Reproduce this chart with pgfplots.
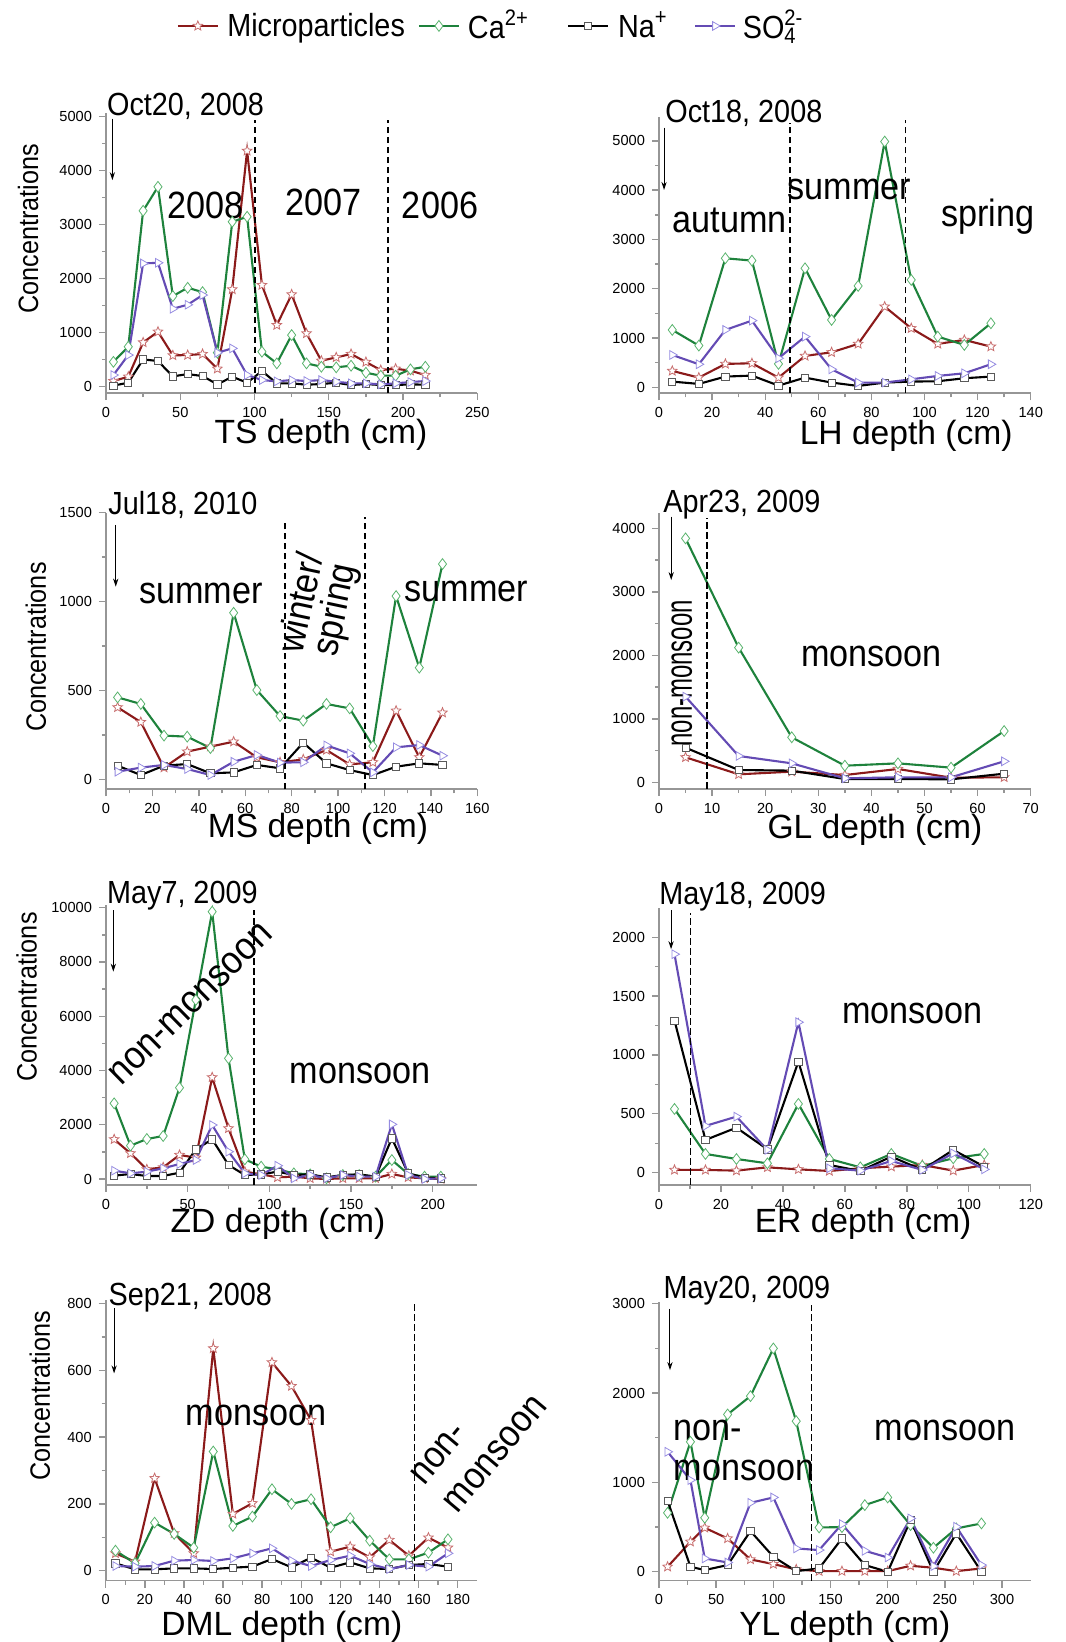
\documentclass[border=0pt]{standalone}
\usepackage{fontspec}
\setmainfont{Liberation Sans}
\newfontfamily\cond{Liberation Sans}[FakeStretch=0.9]
\usepackage{graphicx}
\usepackage{pgfplots}
\usepackage{pgfplotstable}
\pgfplotsset{compat=1.18}
\usetikzlibrary{arrows.meta}

\definecolor{mpc}{RGB}{139,26,26}
\definecolor{mpm}{RGB}{200,110,110}
\definecolor{cac}{RGB}{30,130,60}
\definecolor{cam}{RGB}{90,180,110}
\definecolor{nam}{RGB}{90,90,90}
\definecolor{soc}{RGB}{100,75,180}
\definecolor{som}{RGB}{150,140,225}
\definecolor{axgray}{RGB}{150,150,150}

\pgfdeclareplotmark{ostar}{%
  \pgfpathmoveto{\pgfqpointpolar{90}{\pgfplotmarksize}}%
  \pgfpathlineto{\pgfpointscale{0.45}{\pgfqpointpolar{126}{\pgfplotmarksize}}}%
  \pgfpathlineto{\pgfqpointpolar{162}{\pgfplotmarksize}}%
  \pgfpathlineto{\pgfpointscale{0.45}{\pgfqpointpolar{198}{\pgfplotmarksize}}}%
  \pgfpathlineto{\pgfqpointpolar{234}{\pgfplotmarksize}}%
  \pgfpathlineto{\pgfpointscale{0.45}{\pgfqpointpolar{270}{\pgfplotmarksize}}}%
  \pgfpathlineto{\pgfqpointpolar{306}{\pgfplotmarksize}}%
  \pgfpathlineto{\pgfpointscale{0.45}{\pgfqpointpolar{342}{\pgfplotmarksize}}}%
  \pgfpathlineto{\pgfqpointpolar{18}{\pgfplotmarksize}}%
  \pgfpathlineto{\pgfpointscale{0.45}{\pgfqpointpolar{54}{\pgfplotmarksize}}}%
  \pgfpathclose
  \pgfusepathqfillstroke
}

\pgfplotsset{
  panel/.style={
    scale only axis, anchor=south west, clip=false,
    axis x line*=bottom, axis y line*=left,
    axis line style={color=axgray, line width=0.8pt, -},
    tick align=outside,
    tick style={color=axgray, line width=0.7pt},
    major tick length=3.5pt, minor tick length=2pt,
    minor tick num=1,
    scaled ticks=false,
    tick label style={font=\fontsize{7.3}{8}\selectfont, text=black},
    /pgf/number format/assume math mode=true,
    /pgf/number format/1000 sep={},
    xlabel style={font=\fontsize{16.8}{17}\selectfont, anchor=base},
    ylabel style={font=\cond\fontsize{14}{14}\selectfont, anchor=center},
  },
  mp/.style={color=mpc, line width=1.05pt, mark=ostar, mark size=2.5pt, mark options={draw=mpm, fill=white, line width=0.4pt, solid}},
  ca/.style={color=cac, line width=1.05pt, mark=diamond*, mark size=2.7pt, mark options={draw=cam, fill=white, line width=0.4pt, solid}},
  na/.style={color=black, line width=1.05pt, mark=square*, mark size=1.8pt, mark options={draw=nam, fill=white, line width=0.4pt, solid}},
  so/.style={color=soc, line width=1.05pt, mark=triangle*, mark size=2.5pt, mark options={draw=som, fill=white, line width=0.4pt, rotate=-90, solid}},
}
\tikzset{
  ann/.style={font=\cond\fontsize{19}{19}\selectfont, inner sep=0pt},
  date/.style={font=\cond\fontsize{16}{16}\selectfont, anchor=base west, inner sep=0pt},
  sep/.style={black, line width=0.75pt, dash pattern=on 3.3pt off 1.7pt},
  arr/.style={black, line width=0.5pt, -{Stealth[length=4pt,width=2.6pt]}},
}

\pgfplotstableread{
x mp ca na so
5 105 460 20 216
15 185 740 74 586
25 820 3258 506 2283
35 1018 3702 475 2295
45 580 1678 191 1444
55 586 1832 234 1518
65 605 1752 197 1697
75 333 630 43 629
85 1802 3054 185 710
95 4368 3147 74 216
105 1882 648 290 123
115 1141 432 62 99
125 1709 956 62 123
135 987 432 37 105
145 481 370 49 123
155 543 358 74 93
165 605 389 31 62
175 457 259 49 62
185 308 204 31 43
195 333 204 31 62
205 296 321 43 86
215 216 370 37 105
}\tsdata

\pgfplotstableread{
x mp ca na so
5 332 1164 115 656
15 196 846 68 467
25 474 2618 217 1164
35 487 2571 237 1353
45 196 474 34 589
55 636 2415 196 1028
65 710 1367 95 365
75 880 2057 27 95
85 1637 4987 95 95
95 1198 2179 115 162
105 880 1028 122 230
115 961 859 183 284
125 825 1299 217 467
}\lhdata

\pgfplotstableread{
x mp ca na so
5 405 461 77 43
15 322 424 24 66
25 66 246 77 81
35 156 240 86 58
45 184 176 34 24
55 212 937 39 99
65 124 502 81 137
75 96 356 62 94
85 112 330 206 96
95 165 424 90 191
105 84 399 52 146
115 96 187 24 39
125 386 1031 71 180
135 124 628 90 193
145 375 1211 81 133
}\msdata

\pgfplotstableread{
x mp ca na so
5 394 3842 546 1349
15 126 2121 194 415
25 168 709 184 299
35 115 262 52 63
45 210 299 52 79
55 73 231 47 79
65 79 808 136 331
}\gldata

\pgfplotstableread{
x mp ca na so
5 1462 2789 123 307
15 946 1229 184 209
25 356 1474 111 270
35 430 1585 111 393
45 885 3366 233 553
55 786 6600 1093 700
65 3747 9853 1462 1990
75 1867 4447 516 1007
85 270 725 147 209
95 172 455 172 147
105 61 356 270 491
115 86 209 147 25
125 25 172 172 147
135 0 25 61 25
145 25 147 147 147
155 25 147 172 86
165 25 86 86 86
175 184 700 1499 2015
185 61 184 209 147
195 25 86 49 0
205 0 86 25 25
}\zddata

\pgfplotstableread{
x mp ca na so
5 23 541 1292 1856
15 23 159 278 397
25 17 116 382 476
35 45 79 198 193
45 28 584 943 1278
55 14 116 65 37
65 37 45 14 17
75 51 159 136 99
85 65 57 23 23
95 17 122 193 164
105 65 159 51 28
}\erdata

\pgfplotstableread{
x mp ca na so
5 52 60 22 14
15 27 22 4 12
25 277 144 4 14
35 112 110 7 30
45 52 69 7 32
55 666 357 5 29
65 170 134 9 37
75 202 162 12 52
85 624 244 35 67
95 553 200 10 30
105 451 214 39 14
115 57 130 9 32
125 72 157 25 45
135 40 90 7 20
145 92 34 5 5
155 45 34 17 17
165 99 54 20 12
175 69 94 12 52
}\dmldata

\pgfplotstableread{
x mp ca na so
7.5 56 660 795 1343
27.5 336 1455 56 1026
40 492 604 19 149
60 373 1761 75 104
80 138 1966 455 772
100 86 2500 168 832
120 26 1686 7 261
140 7 496 37 243
160 7 500 373 534
180 7 746 75 235
200 7 832 0 160
220 67 522 578 597
240 45 269 0 63
260 7 485 429 504
282 37 541 0 75
}\yldata

\begin{document}
\begin{tikzpicture}
\useasboundingbox (0,0) rectangle (532.5pt,821pt);

% ---------------- TS
\begin{axis}[panel, at={(53pt,624.4pt)}, width=185.65pt, height=139.85pt,
  xmin=0, xmax=250, ymin=-120, ymax=5060,
  xtick={0,50,...,250}, ytick={0,1000,...,5000},
  xlabel={TS depth (cm)}, xlabel style={at={(axis description cs:0.579,-0.18)}},
  ylabel={Concentrations}, ylabel style={at={(axis description cs:-0.21,0.588)}},
  legend columns=4,
  legend style={at={(axis description cs:1.0315,1.313)}, anchor=center, draw=none, fill=none,
    inner sep=0pt, column sep=0pt, nodes={inner sep=0pt},
    font=\cond\fontsize{16}{16}\selectfont},
  legend image code/.code={\draw[mark repeat=2,mark phase=2,#1] plot coordinates {(0pt,0pt) (10pt,0pt) (20pt,0pt)};},
]
\addplot[mp] table[x=x,y=mp]{\tsdata};
\addlegendentry{\makebox[99.5pt][l]{\hspace{4.2pt}Microparticles}}
\addplot[ca] table[x=x,y=ca]{\tsdata};
\addlegendentry{\makebox[53.5pt][l]{\hspace{4pt}Ca\textsuperscript{2+}}}
\addplot[na] table[x=x,y=na]{\tsdata};
\addlegendentry{\makebox[42.5pt][l]{\hspace{4.5pt}Na\textsuperscript{+}}}
\addplot[so] table[x=x,y=so]{\tsdata};
\addlegendentry{\makebox[32.5pt][l]{\hspace{3.3pt}SO\rlap{\textsubscript{4}}\textsuperscript{2-}}}
\draw[sep] (axis cs:100.3,-120) -- (axis cs:100.3,4936);
\draw[sep] (axis cs:190,-120) -- (axis cs:190,4936);
\draw[arr] (axis cs:4.3,4967) -- (axis cs:4.3,3825);
\node[date, xshift=0.35pt, yshift=-1.25pt] at (axis description cs:0,1) {Oct20, 2008};
\node[ann] at (axis cs:67.1,3362) {2008};
\node[ann] at (axis cs:146.3,3405) {2007};
\node[ann] at (axis cs:224.9,3362) {2006};
\end{axis}

% ---------------- LH
\begin{axis}[panel, at={(329.5pt,624.35pt)}, width=185.85pt, height=138.25pt,
  xmin=0, xmax=140, ymin=-122, ymax=5490,
  xtick={0,20,...,140}, ytick={0,1000,...,5000},
  xlabel={LH depth (cm)}, xlabel style={at={(axis description cs:0.665,-0.187)}},
]
\addplot[mp] table[x=x,y=mp]{\lhdata};
\addplot[ca] table[x=x,y=ca]{\lhdata};
\addplot[na] table[x=x,y=na]{\lhdata};
\addplot[so] table[x=x,y=so]{\lhdata};
\draw[sep] (axis cs:49.3,-122) -- (axis cs:49.3,5372);
\draw[sep] (axis cs:92.9,-122) -- (axis cs:92.9,5426);
\draw[arr] (axis cs:1.9,5271) -- (axis cs:1.9,4005);
\node[date, xshift=3pt, yshift=-2.8pt] at (axis description cs:0,1) {Oct18, 2008};
\node[ann] at (axis cs:26.7,3396) {autumn};
\node[ann] at (axis cs:71.7,4005) {summer};
\node[ann] at (axis cs:123.8,3464) {spring};
\end{axis}

% ---------------- MS
\begin{axis}[panel, at={(53pt,426.35pt)}, width=185.65pt, height=138.3pt,
  xmin=0, xmax=160, ymin=-56, ymax=1500,
  xtick={0,20,...,160}, ytick={0,500,1000,1500},
  xlabel={MS depth (cm)}, xlabel style={at={(axis description cs:0.571,-0.176)}},
  ylabel={Concentrations}, ylabel style={at={(axis description cs:-0.189,0.514)}},
]
\addplot[mp] table[x=x,y=mp]{\msdata};
\addplot[ca] table[x=x,y=ca]{\msdata};
\addplot[na] table[x=x,y=na]{\msdata};
\addplot[so] table[x=x,y=so]{\msdata};
\draw[sep] (axis cs:77.1,-56) -- (axis cs:77.1,1459);
\draw[sep] (axis cs:111.6,-56) -- (axis cs:111.6,1478);
\draw[arr] (axis cs:4.2,1431) -- (axis cs:4.2,1084);
\node[date, xshift=1pt, yshift=-1.15pt] at (axis description cs:0,1) {Jul18, 2010};
\node[ann] at (axis cs:41,1046) {summer};
\node[ann, rotate=78, align=center, font=\cond\fontsize{19}{17}\selectfont] at (axis cs:92.2,971) {winter/\\spring};
\node[ann] at (axis cs:155.4,1056) {summer};
\end{axis}

% ---------------- GL
\begin{axis}[panel, at={(329.5pt,426.5pt)}, width=185.85pt, height=137.8pt,
  xmin=0, xmax=70, ymin=-105, ymax=4236,
  xtick={0,10,...,70}, ytick={0,1000,...,4000},
  xlabel={GL depth (cm)}, xlabel style={at={(axis description cs:0.581,-0.178)}},
]
\addplot[mp] table[x=x,y=mp]{\gldata};
\addplot[ca] table[x=x,y=ca]{\gldata};
\addplot[na] table[x=x,y=na]{\gldata};
\addplot[so] table[x=x,y=so]{\gldata};
\draw[sep] (axis cs:9.04,-105) -- (axis cs:9.04,4157);
\draw[arr] (axis cs:2.3,4183) -- (axis cs:2.3,3186);
\node[date, xshift=2pt, yshift=0.5pt] at (axis description cs:0,1) {Apr23, 2009};
\node[ann] at (axis cs:40,1989) {monsoon};
\node[inner sep=0pt, rotate=90] at (axis cs:4.3,1716) {\scalebox{0.7}[1]{\cond\fontsize{19}{19}\selectfont non-monsoon}};
\end{axis}

% ---------------- ZD
\begin{axis}[panel, at={(53pt,228.5pt)}, width=185.4pt, height=140pt,
  xmin=0, xmax=227, ymin=-221, ymax=10100,
  xtick={0,50,...,200}, ytick={0,2000,...,10000},
  xlabel={ZD depth (cm)}, xlabel style={at={(axis description cs:0.464,-0.171)}},
  ylabel={Concentrations}, ylabel style={at={(axis description cs:-0.214,0.671)}},
]
\addplot[mp] table[x=x,y=mp]{\zddata};
\addplot[ca] table[x=x,y=ca]{\zddata};
\addplot[na] table[x=x,y=na]{\zddata};
\addplot[so] table[x=x,y=so]{\zddata};
\draw[sep] (axis cs:90.6,-221) -- (axis cs:90.6,9914);
\draw[arr] (axis cs:4.5,9914) -- (axis cs:4.5,7641);
\node[date, xshift=0.35pt, yshift=0.5pt] at (axis description cs:0,1) {May7, 2009};
\node[ann, rotate=44.4, font=\cond\fontsize{19.5}{19.5}\selectfont] at (axis cs:51.8,6450) {non-monsoon};
\node[ann] at (axis cs:155.5,3894) {monsoon};
\end{axis}

% ---------------- ER
\begin{axis}[panel, at={(329.5pt,228.5pt)}, width=185.85pt, height=138.35pt,
  xmin=0, xmax=120, ymin=-105, ymax=2246,
  xtick={0,20,...,120}, ytick={0,500,...,2000},
  xlabel={ER depth (cm)}, xlabel style={at={(axis description cs:0.549,-0.171)}},
]
\addplot[mp] table[x=x,y=mp]{\erdata};
\addplot[ca] table[x=x,y=ca]{\erdata};
\addplot[na] table[x=x,y=na]{\erdata};
\addplot[so] table[x=x,y=so]{\erdata};
\draw[sep] (axis cs:10.2,-105) -- (axis cs:10.2,2204);
\draw[arr] (axis cs:3.9,2232) -- (axis cs:3.9,1898);
\node[date, yshift=2pt] at (axis description cs:0,1) {May18, 2009};
\node[ann] at (axis cs:81.8,1354) {monsoon};
\end{axis}

% ---------------- DML
\begin{axis}[panel, at={(52.85pt,30.65pt)}, width=185.8pt, height=140.2pt,
  xmin=0, xmax=190, ymin=-30, ymax=810,
  xtick={0,20,...,180}, ytick={0,200,...,800},
  xlabel={DML depth (cm)}, xlabel style={at={(axis description cs:0.474,-0.194)}},
  ylabel={Concentrations}, ylabel style={at={(axis description cs:-0.177,0.659)}},
]
\addplot[mp] table[x=x,y=mp]{\dmldata};
\addplot[ca] table[x=x,y=ca]{\dmldata};
\addplot[na] table[x=x,y=na]{\dmldata};
\addplot[so] table[x=x,y=so]{\dmldata};
\draw[sep] (axis cs:157.8,-30) -- (axis cs:157.8,806);
\draw[arr] (axis cs:4.3,786) -- (axis cs:4.3,591);
\node[date, xshift=1.3pt, yshift=-2.35pt] at (axis description cs:0,1) {Sep21, 2008};
\node[ann] at (axis cs:77,464) {monsoon};
\node[ann, rotate=50, align=left, font=\cond\fontsize{19}{22}\selectfont] at (axis cs:190.7,391.5) {non-\\monsoon};
\end{axis}

% ---------------- YL
\begin{axis}[panel, at={(329.5pt,30.65pt)}, width=185.8pt, height=139.35pt,
  xmin=0, xmax=325, ymin=-100, ymax=3020,
  xtick={0,50,...,300}, ytick={0,1000,...,3000},
  xlabel={YL depth (cm)}, xlabel style={at={(axis description cs:0.5,-0.195)}},
]
\addplot[mp] table[x=x,y=mp]{\yldata};
\addplot[ca] table[x=x,y=ca]{\yldata};
\addplot[na] table[x=x,y=na]{\yldata};
\addplot[so] table[x=x,y=so]{\yldata};
\draw[sep] (axis cs:133.5,-100) -- (axis cs:133.5,2985);
\draw[arr] (axis cs:9.6,2947) -- (axis cs:9.6,2257);
\node[date, xshift=2.15pt, yshift=1.95pt] at (axis description cs:0,1) {May20, 2009};
\node[ann, anchor=west, align=left, font=\cond\fontsize{19}{20}\selectfont] at (axis cs:12.5,1355) {non-\\monsoon};
\node[ann] at (axis cs:250,1586) {monsoon};
\end{axis}

\end{tikzpicture}
\end{document}
